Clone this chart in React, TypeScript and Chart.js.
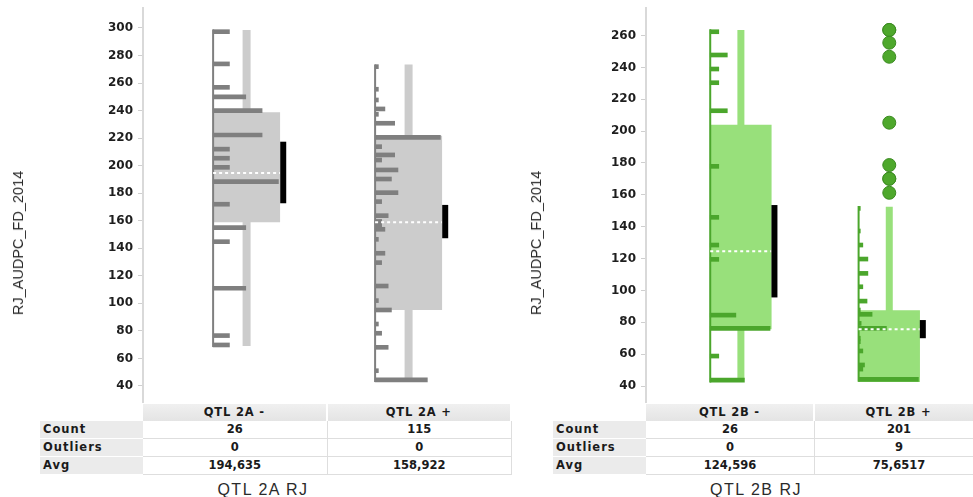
import React, { useEffect, useRef } from "react";
import { Chart, registerables } from "chart.js";

Chart.register(...registerables);

// ---------- axis ticks ----------
const ticksLeft = [40, 60, 80, 100, 120, 140, 160, 180, 200, 220, 240, 260, 280, 300];
const ticksRight = [40, 60, 80, 100, 120, 140, 160, 180, 200, 220, 240, 260];

// ---------- group names and table rows ----------
const groupNamesLeft = ["QTL 2A -", "QTL 2A +"];
const groupNamesRight = ["QTL 2B -", "QTL 2B +"];
const rowLabels = ["Count", "Outliers", "Avg"];
const yTitle = "RJ_AUDPC_FD_2014";
const panelTitleLeft = "QTL 2A RJ";
const panelTitleRight = "QTL 2B RJ";

// ---------- histogram bins (bin value / number of lines) ----------
const bins2AMinus = [297.3, 273.9, 256.9, 250, 240, 222.3, 212, 205.4, 198.8, 188.4, 172, 155, 144.8, 111, 76.6, 69.8];
const counts2AMinus = [1, 1, 1, 2, 3, 3, 1, 1, 1, 4, 1, 2, 1, 2, 1, 1];

const bins2APlus = [271.9, 255.5, 247.7, 241.2, 237.3, 230.8, 220.6, 213.8, 207.8, 204.1, 196.9, 190.3, 180.4, 173.9, 163.7, 159.5, 157, 153.8, 146.5, 136.4, 129.6, 112.6, 102, 95.2, 85, 78.3, 68.1, 51.1, 44.4];
const counts2APlus = [1, 1, 1, 3, 1, 6, 20, 2, 6, 2, 7, 5, 7, 2, 4, 2, 2, 3, 1, 3, 2, 4, 1, 5, 1, 2, 4, 1, 16];

const bins2BMinus = [262.4, 247.8, 239, 230.4, 212.8, 177.9, 145.9, 128.5, 119.5, 84.5, 76.2, 58.8, 43.7];
const counts2BMinus = [1, 2, 1, 1, 2, 1, 1, 1, 1, 3, 7, 1, 4];

const bins2BPlus = [151.5, 137.3, 128.5, 119.7, 110.7, 102.3, 93.3, 87.7, 85, 79.3, 76.2, 70, 67.8, 62, 53.2, 50.6, 44.2];
const counts2BPlus = [2, 2, 5, 11, 11, 5, 10, 2, 16, 3, 33, 2, 2, 5, 7, 5, 71];

// ---------- outliers ----------
const outliers2AMinus: number[] = [];
const outliers2APlus: number[] = [];
const outliers2BMinus: number[] = [];
const outliers2BPlus = [263.5, 263.5, 255.5, 246.7, 205.3, 178.7, 170.1, 170.1, 161.3];

// ---------- box statistics [minus, plus] ----------
const q1Left = [159, 95.2];
const q3Left = [238.8, 221.8];
const whiskerLowLeft = [69, 44.5];
const whiskerHighLeft = [298.5, 273.5];
const ciLowLeft = [172.7, 147.3];
const ciHighLeft = [217.4, 171.5];
const avgLeft = [194.635, 158.922];

const q1Right = [75.6, 42.5];
const q3Right = [204, 87.5];
const whiskerLowRight = [44, 44];
const whiskerHighRight = [263.5, 152.5];
const ciLowRight = [95.6, 70];
const ciHighRight = [153.6, 81.4];
const avgRight = [124.596, 75.6517];

// ---------- layout (slot units on the hidden x axis) ----------
const BASE_OFFSET = [0.38, 0.258];
const BOX_WIDTH = 0.363;
const HIST_FILL = 0.975;
const CI_GAP = 0.017;

type Group = {
  name: string;
  bins: number[];
  counts: number[];
  outliers: number[];
  q1: number;
  q3: number;
  whiskerLow: number;
  whiskerHigh: number;
  ciLow: number;
  ciHigh: number;
  avg: number;
};

type Palette = {
  bar: string;
  box: string;
  whiskerPx: number;
  point: string;
  pointBorder: string;
};

const grayPalette: Palette = { bar: "#7f7f7f", box: "#cccccc", whiskerPx: 8, point: "#7f7f7f", pointBorder: "#666666" };
const greenPalette: Palette = { bar: "#4ba62c", box: "#98e07b", whiskerPx: 7, point: "#4ea82c", pointBorder: "#3b8a21" };

function makeGroups(
  names: string[],
  bins: number[][],
  counts: number[][],
  outliers: number[][],
  q1: number[],
  q3: number[],
  wl: number[],
  wh: number[],
  cl: number[],
  ch: number[],
  avg: number[]
): Group[] {
  return names.map((name, i) => ({
    name,
    bins: bins[i],
    counts: counts[i],
    outliers: outliers[i],
    q1: q1[i],
    q3: q3[i],
    whiskerLow: wl[i],
    whiskerHigh: wh[i],
    ciLow: cl[i],
    ciHigh: ch[i],
    avg: avg[i],
  }));
}

const groupsLeft = makeGroups(
  groupNamesLeft,
  [bins2AMinus, bins2APlus],
  [counts2AMinus, counts2APlus],
  [outliers2AMinus, outliers2APlus],
  q1Left, q3Left, whiskerLowLeft, whiskerHighLeft, ciLowLeft, ciHighLeft, avgLeft
);

const groupsRight = makeGroups(
  groupNamesRight,
  [bins2BMinus, bins2BPlus],
  [counts2BMinus, counts2BPlus],
  [outliers2BMinus, outliers2BPlus],
  q1Right, q3Right, whiskerLowRight, whiskerHighRight, ciLowRight, ciHighRight, avgRight
);

const sum = (a: number[]) => a.reduce((s, v) => s + v, 0);
const formatAvg = (v: number) => String(v).replace(".", ",");

type ChartProps = {
  groups: Group[];
  ticks: number[];
  yMin: number;
  yMax: number;
  xMax: number;
  axisWidth: number;
  padRight: number;
  palette: Palette;
  left: number;
  width: number;
  height: number;
};

function BoxHistogram(props: ChartProps) {
  const { groups, ticks, yMin, yMax, xMax, axisWidth, padRight, palette, left, width, height } = props;
  const canvasRef = useRef<HTMLCanvasElement | null>(null);

  useEffect(() => {
    const canvas = canvasRef.current;
    if (!canvas) return;
    const datasets: any[] = [];

    groups.forEach((g, i) => {
      const x0 = i + BASE_OFFSET[i];
      const x1 = x0 + BOX_WIDTH;
      const xc = (x0 + x1) / 2;
      const maxCount = Math.max(...g.counts);
      const lo = Math.min(...g.bins);
      const hi = Math.max(...g.bins);

      // whisker
      datasets.push({
        type: "line",
        data: [{ x: xc, y: g.whiskerLow }, { x: xc, y: g.whiskerHigh }],
        borderColor: palette.box,
        borderWidth: palette.whiskerPx,
        pointRadius: 0,
        fill: false,
        order: 60,
      });
      // interquartile box
      datasets.push({
        type: "line",
        data: [
          { x: x0, y: g.q1 },
          { x: x1, y: g.q1 },
          { x: x1, y: g.q3 },
          { x: x0, y: g.q3 },
          { x: x0, y: g.q1 },
        ],
        borderColor: "rgba(0,0,0,0)",
        borderWidth: 1,
        backgroundColor: palette.box,
        fill: "shape",
        pointRadius: 0,
        order: 50,
      });
      // histogram bars
      datasets.push({
        type: "bar",
        indexAxis: "y",
        grouped: false,
        barThickness: 4,
        data: g.bins.map((v, k) => ({ y: v, x: [x0, x0 + (g.counts[k] / maxCount) * BOX_WIDTH * HIST_FILL] })),
        backgroundColor: palette.bar,
        borderWidth: 0,
        order: 40,
      });
      // histogram baseline
      datasets.push({
        type: "line",
        data: [{ x: x0, y: lo - 1.5 }, { x: x0, y: hi + 1.5 }],
        borderColor: palette.bar,
        borderWidth: 2,
        pointRadius: 0,
        fill: false,
        order: 35,
      });
      // mean
      datasets.push({
        type: "line",
        data: [{ x: x0, y: g.avg }, { x: x1, y: g.avg }],
        borderColor: "#ffffff",
        borderWidth: 2,
        borderDash: [3, 3],
        pointRadius: 0,
        fill: false,
        order: 20,
      });
      // confidence interval of the mean
      datasets.push({
        type: "line",
        data: [{ x: x1 + CI_GAP, y: g.ciLow }, { x: x1 + CI_GAP, y: g.ciHigh }],
        borderColor: "#000000",
        borderWidth: 6,
        pointRadius: 0,
        fill: false,
        order: 10,
      });
      if (g.outliers.length) {
        datasets.push({
          type: "scatter",
          data: g.outliers.map((v) => ({ x: xc, y: v })),
          pointRadius: 6.5,
          pointStyle: "circle",
          backgroundColor: palette.point,
          borderColor: palette.pointBorder,
          borderWidth: 1,
          order: 5,
        });
      }
    });

    const chart = new Chart(canvas, {
      type: "line",
      data: { datasets },
      options: {
        responsive: true,
        maintainAspectRatio: false,
        animation: false,
        events: [],
        layout: { autoPadding: false, padding: { top: 8, right: padRight, bottom: 0, left: 0 } },
        plugins: { legend: { display: false }, tooltip: { enabled: false } },
        scales: {
          x: {
            type: "linear",
            min: 0,
            max: xMax,
            display: false,
            offset: false,
            grid: { offset: false },
          },
          y: {
            type: "linear",
            min: yMin,
            max: yMax,
            offset: false,
            beginAtZero: false,
            afterBuildTicks: (s: any) => {
              s.ticks = ticks.map((value) => ({ value }));
            },
            afterFit: (s: any) => {
              s.width = axisWidth;
              s.paddingTop = 0;
              s.paddingBottom = 0;
            },
            ticks: {
              autoSkip: false,
              padding: 5,
              color: "#1e1e1e",
              font: { family: "'DejaVu Sans', sans-serif", size: 12, weight: "bold" },
            },
            grid: {
              offset: false,
              drawOnChartArea: false,
              drawTicks: true,
              tickLength: 5,
              color: "#cfcfcf",
            },
            border: { display: true, color: "#d9d9d9", width: 2 },
          },
        },
      } as any,
    });
    return () => chart.destroy();
  }, []);

  return (
    <div style={{ position: "absolute", left, top: 0, width, height }}>
      <canvas ref={canvasRef} />
    </div>
  );
}

type TableProps = {
  left: number;
  labelWidth: number;
  colWidth: number;
  groups: Group[];
};

const cellFont: React.CSSProperties = {
  fontFamily: "'DejaVu Sans', sans-serif",
  fontWeight: "bold",
  fontSize: 11.5,
  color: "#1a1a1a",
  position: "absolute",
  boxSizing: "border-box",
  whiteSpace: "nowrap",
  overflow: "hidden",
};

function StatsTable({ left, labelWidth, colWidth, groups }: TableProps) {
  const headerTop = 404;
  const headerH = 17;
  const rowTop = 421;
  const rowH = 18;
  const values = groups.map((g) => [
    String(sum(g.counts) + g.outliers.length),
    String(g.outliers.length),
    formatAvg(g.avg),
  ]);
  const cells: React.ReactNode[] = [];
  groups.forEach((g, c) => {
    cells.push(
      <div
        key={`h${c}`}
        style={{
          ...cellFont,
          left: left + labelWidth + c * colWidth,
          top: headerTop,
          width: colWidth - 2,
          height: headerH,
          lineHeight: `${headerH}px`,
          textAlign: "center",
          letterSpacing: 0.8,
          background: "linear-gradient(#f0f0f0, #e4e4e4)",
        }}
      >
        {g.name}
      </div>
    );
  });
  rowLabels.forEach((label, r) => {
    cells.push(
      <div
        key={`l${r}`}
        style={{
          ...cellFont,
          left,
          top: rowTop + r * rowH,
          width: labelWidth,
          height: rowH - 1,
          lineHeight: `${rowH - 1}px`,
          paddingLeft: 3,
          letterSpacing: 1,
          background: "#ebebeb",
        }}
      >
        {label}
      </div>
    );
    groups.forEach((g, c) => {
      cells.push(
        <div
          key={`v${r}-${c}`}
          style={{
            ...cellFont,
            left: left + labelWidth + c * colWidth,
            top: rowTop + r * rowH,
            width: colWidth,
            height: rowH,
            lineHeight: `${rowH - 1}px`,
            textAlign: "center",
            background: "#ffffff",
            borderRight: "1px solid #dedede",
            borderBottom: "1px solid #dedede",
          }}
        >
          {values[c][r]}
        </div>
      );
    });
  });
  return <>{cells}</>;
}

const axisTitleStyle: React.CSSProperties = {
  position: "absolute",
  transform: "translate(-50%, -50%) rotate(-90deg)",
  fontFamily: "'Liberation Sans', Arial, sans-serif",
  fontSize: 14.5,
  color: "#2a2a2a",
  whiteSpace: "nowrap",
};

const panelTitleStyle: React.CSSProperties = {
  position: "absolute",
  transform: "translate(-50%, -50%)",
  fontFamily: "'Liberation Sans', Arial, sans-serif",
  fontSize: 16,
  letterSpacing: 1.5,
  color: "#2a2a2a",
  whiteSpace: "nowrap",
};

export default function App() {
  return (
    <div
      style={{
        position: "absolute",
        left: 0,
        top: 0,
        width: 973,
        height: 497,
        overflow: "hidden",
        background: "#ffffff",
      }}
    >
      <BoxHistogram
        groups={groupsLeft}
        ticks={ticksLeft}
        yMin={27.65}
        yMax={314.5}
        xMax={2}
        axisWidth={143}
        padRight={8}
        palette={grayPalette}
        left={0}
        width={520}
        height={403}
      />
      <BoxHistogram
        groups={groupsRight}
        ticks={ticksRight}
        yMin={29.33}
        yMax={277.3}
        xMax={327 / 169}
        axisWidth={126}
        padRight={0}
        palette={greenPalette}
        left={520}
        width={453}
        height={403}
      />
      <StatsTable left={40} labelWidth={103} colWidth={184.5} groups={groupsLeft} />
      <StatsTable left={553} labelWidth={93} colWidth={169} groups={groupsRight} />
      <div style={{ ...axisTitleStyle, left: 18, top: 243 }}>{yTitle}</div>
      <div style={{ ...axisTitleStyle, left: 536, top: 243 }}>{yTitle}</div>
      <div style={{ ...panelTitleStyle, left: 263, top: 490 }}>{panelTitleLeft}</div>
      <div style={{ ...panelTitleStyle, left: 756, top: 490 }}>{panelTitleRight}</div>
    </div>
  );
}
